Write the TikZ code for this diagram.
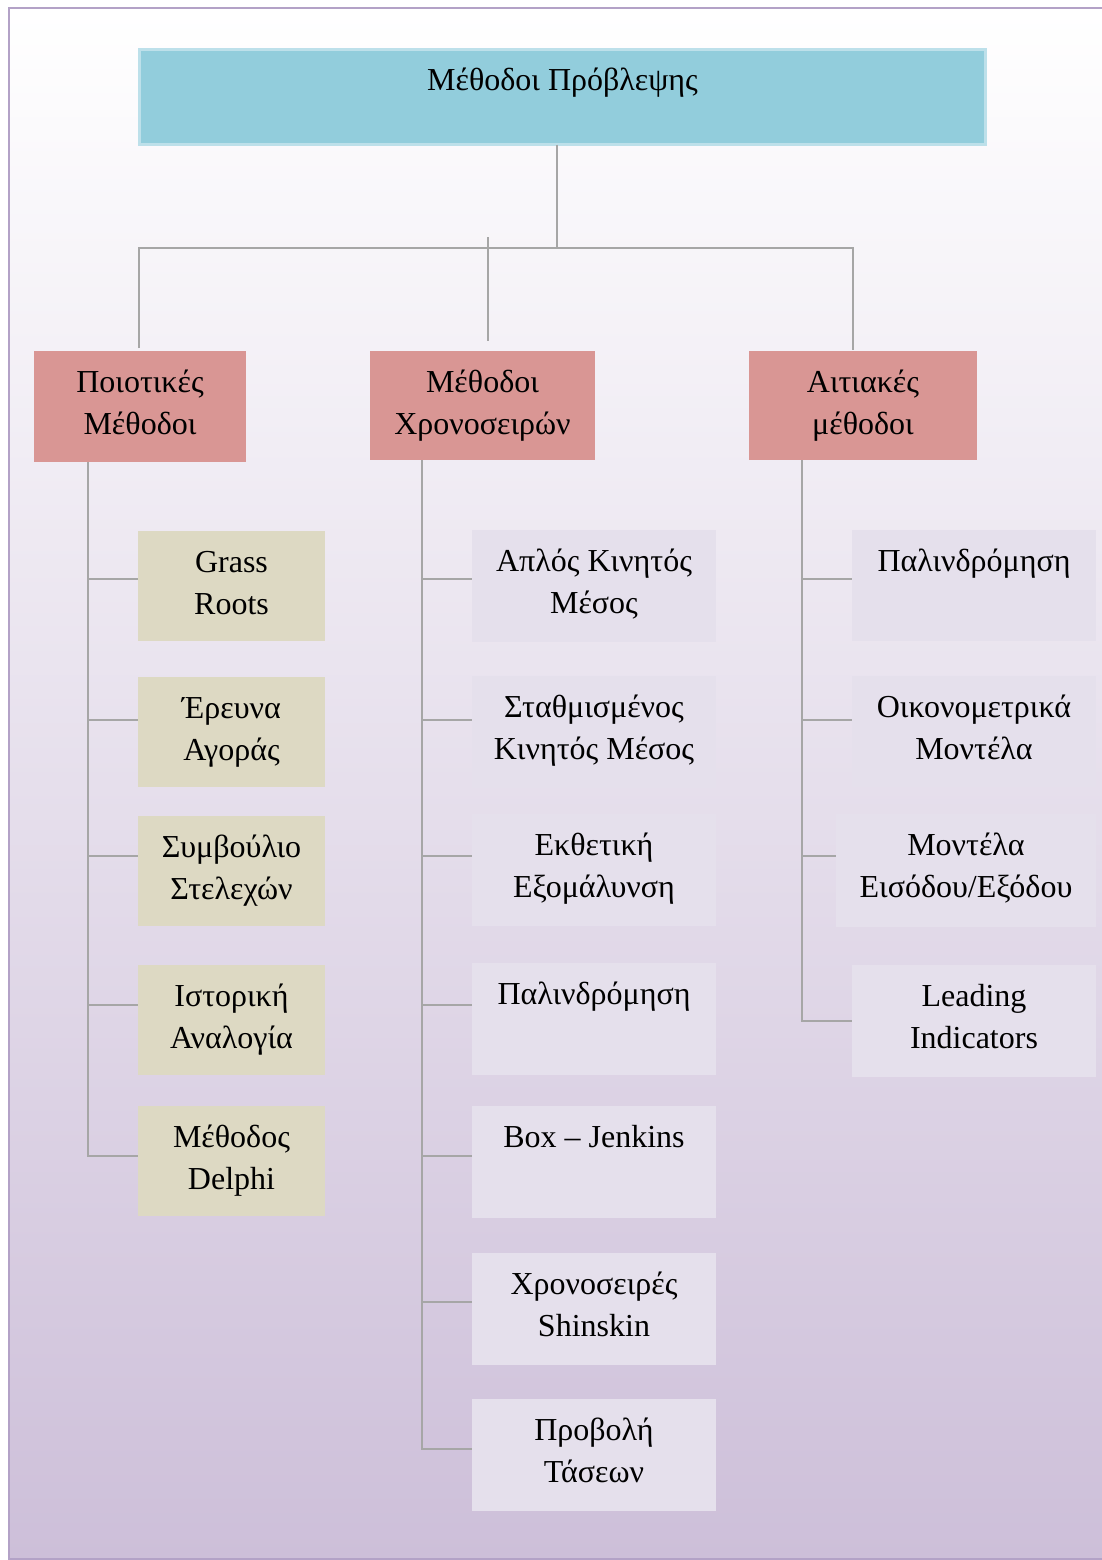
\documentclass[tikz,border=0pt]{standalone}
\usepackage{fontspec}
\setmainfont{Liberation Serif}
\definecolor{ttl}{HTML}{92CDDC}
\definecolor{ttlb}{HTML}{BDE0EA}
\definecolor{lvl}{HTML}{D99694}
\definecolor{qbox}{HTML}{DDD9C3}
\definecolor{obox}{HTML}{E5E0EC}
\definecolor{bgb}{HTML}{CDBFD9}
\definecolor{bdr}{HTML}{B3A2C7}
\definecolor{conncol}{HTML}{A6A6A6}
\tikzset{
  bx/.style={anchor=north west, inner sep=0pt, outer sep=0pt, draw=none},
  txt/.style={anchor=north, inner sep=0pt, outer sep=0pt, align=center,
    font=\fontsize{16}{21}\selectfont, yshift=-5.8pt},
  conn/.style={draw=conncol, line width=1pt},
  lbox/.style={bx, fill=qbox, minimum width=93.5pt, minimum height=55pt},
  mbox/.style={bx, fill=obox, minimum width=122pt, minimum height=56pt},
  rbox/.style={bx, fill=obox, minimum width=122pt, minimum height=55.5pt},
  hbox/.style={bx, fill=lvl},
}
\begin{document}
\begin{tikzpicture}[x=0.5pt, y=-0.5pt]
\useasboundingbox (0,0) rectangle (1102,1560);
\clip (0,0) rectangle (1102,1560);
% background
\shade[top color=white, bottom color=bgb] (9,8) rectangle (1110,1559);
\draw[bdr, line width=1.3pt] (9,8) rectangle (1110,1559);

% title
\node[bx, fill=ttl, draw=ttlb, line width=1.5pt, minimum width=423pt, minimum height=47.5pt] (ttl) at (139.5,49.5) {};
\node[txt] (ttl-t) at (ttl.north) {\strut Μέθοδοι Πρόβλεψης};

% level 2
\node[hbox, minimum width=106pt, minimum height=55.5pt] (q) at (34,351) {};
\node[txt] (q-t) at (q.north) {\strut Ποιοτικές\\Μέθοδοι};
\node[hbox, minimum width=112.5pt, minimum height=54.5pt] (t) at (370,351) {};
\node[txt] (t-t) at (t.north) {\strut Μέθοδοι\\Χρονοσειρών};
\node[hbox, minimum width=114pt, minimum height=54.5pt] (a) at (749,351) {};
\node[txt] (a-t) at (a.north) {\strut Αιτιακές\\μέθοδοι};

% left column
\node[lbox] (g1) at (138,531) {};
\node[txt] (g1-t) at (g1.north) {\strut Grass\\Roots};
\node[lbox] (g2) at (138,677) {};
\node[txt] (g2-t) at (g2.north) {\strut Έρευνα\\Αγοράς};
\node[lbox] (g3) at (138,816) {};
\node[txt] (g3-t) at (g3.north) {\strut Συμβούλιο\\Στελεχών};
\node[lbox] (g4) at (138,965) {};
\node[txt] (g4-t) at (g4.north) {\strut Ιστορική\\Αναλογία};
\node[lbox] (g5) at (138,1106) {};
\node[txt] (g5-t) at (g5.north) {\strut Μέθοδος\\Delphi};

% middle column
\node[mbox] (m1) at (472,530) {};
\node[txt] (m1-t) at (m1.north) {\strut Απλός Κινητός\\Μέσος};
\node[mbox] (m2) at (472,676) {};
\node[txt] (m2-t) at (m2.north) {\strut Σταθμισμένος\\Κινητός Μέσος};
\node[mbox] (m3) at (472,814) {};
\node[txt] (m3-t) at (m3.north) {\strut Εκθετική\\Εξομάλυνση};
\node[mbox] (m4) at (472,963) {};
\node[txt] (m4-t) at (m4.north) {\strut Παλινδρόμηση};
\node[mbox] (m5) at (472,1106) {};
\node[txt] (m5-t) at (m5.north) {\strut Box – Jenkins};
\node[mbox] (m6) at (472,1253) {};
\node[txt] (m6-t) at (m6.north) {\strut Χρονοσειρές\\Shinskin};
\node[mbox] (m7) at (472,1399) {};
\node[txt] (m7-t) at (m7.north) {\strut Προβολή\\Τάσεων};

% right column
\node[rbox] (r1) at (852,530) {};
\node[txt] (r1-t) at (r1.north) {\strut Παλινδρόμηση};
\node[rbox] (r2) at (852,676) {};
\node[txt] (r2-t) at (r2.north) {\strut Οικονομετρικά\\Μοντέλα};
\node[rbox, minimum width=130pt, minimum height=56.5pt] (r3) at (836,814) {};
\node[txt] (r3-t) at (r3.north) {\strut Μοντέλα\\Εισόδου/Εξόδου};
\node[rbox, minimum height=56pt] (r4) at (852,965) {};
\node[txt] (r4-t) at (r4.north) {\strut Leading\\Indicators};

% connectors from title
\coordinate (hub) at (557,248);
\coordinate (hl) at (139,248);
\coordinate (hr) at (853,248);
\coordinate (tm) at (488,237);
\coordinate (tm2) at (488,341);
\draw[conn] (ttl.south -| hub) -- (hub);
\draw[conn] ([yshift=1.5pt]q.north -| hl) -- (hl) -- (hr) -- ([yshift=0.5pt]a.north -| hr);
\draw[conn] (tm) -- (tm2);

% trunks
\coordinate (lt) at (88,0);
\coordinate (mt) at (422,0);
\coordinate (rt) at (802,0);
\draw[conn] (q.south -| lt) |- (g5.west |- 0,1156);
\foreach \n/\y in {g1/579,g2/720,g3/856,g4/1005}
  \draw[conn] (lt |- 0,\y) -- (\n.west |- 0,\y);
\draw[conn] (t.south -| mt) |- (m7.west |- 0,1449);
\foreach \n/\y in {m1/579,m2/720,m3/856,m4/1005,m5/1156,m6/1302}
  \draw[conn] (mt |- 0,\y) -- (\n.west |- 0,\y);
\draw[conn] (a.south -| rt) |- (r4.west |- 0,1021);
\foreach \n/\y in {r1/579,r2/720,r3/856}
  \draw[conn] (rt |- 0,\y) -- (\n.west |- 0,\y);
\end{tikzpicture}
\end{document}
